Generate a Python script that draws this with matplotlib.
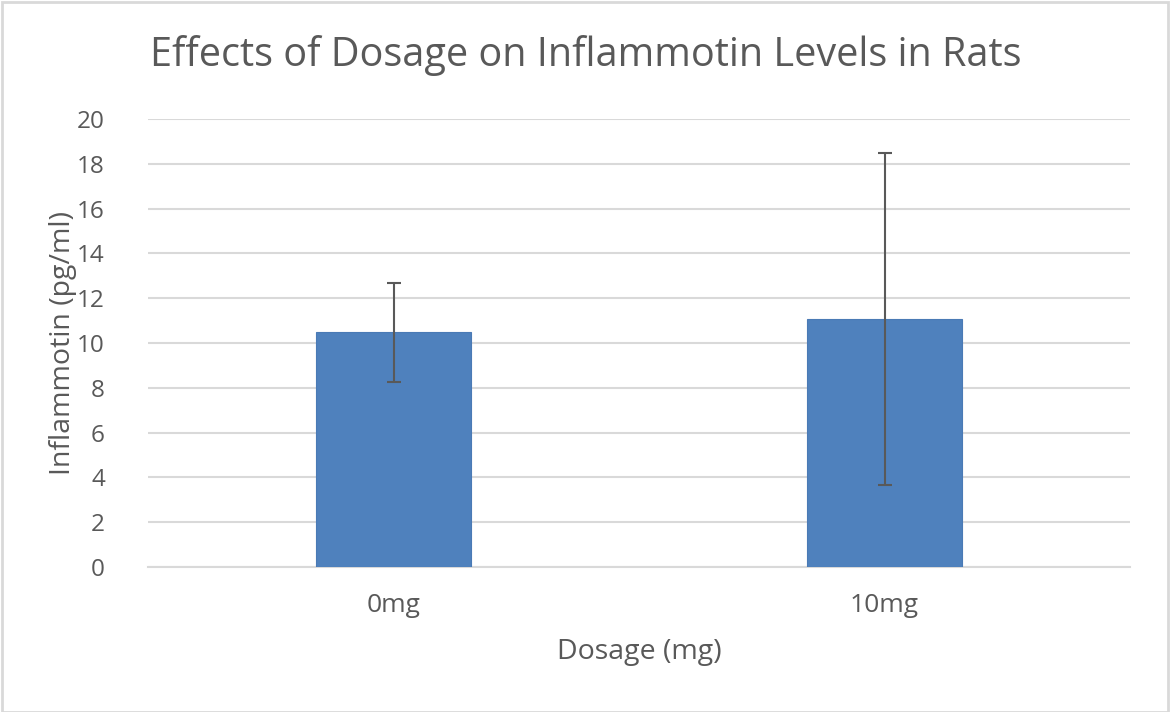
import matplotlib
matplotlib.use("Agg")
import matplotlib.pyplot as plt
import matplotlib.patches as mpatches

# Chart data
dosages = ["0mg", "10mg"]
means = [10.48, 11.07]
errors = [2.21, 7.42]
y_ticks = [0, 2, 4, 6, 8, 10, 12, 14, 16, 18, 20]

TEXT = "#595959"
BAR = "#4f81bd"
GRID = "#d9d9d9"

plt.rcParams['font.family'] = ['Open Sans', 'DejaVu Sans']

fig = plt.figure(figsize=(11.72, 7.12), dpi=100)
ax = fig.add_axes([0.1263, 0.2037, 0.8379, 0.6292])

x = list(range(len(dosages)))
ax.bar(x, means, width=0.314, color=BAR, edgecolor="#4a7ab5", linewidth=0.8, zorder=2)
ax.errorbar(x, means, yerr=errors, fmt='none', ecolor=TEXT, elinewidth=1.5,
            capsize=5, capthick=1.5, zorder=3)

ax.set_xlim(-0.5, 1.5)
ax.set_ylim(0, 20)
ax.set_yticks(y_ticks)
ax.set_xticks(x)
ax.set_xticklabels(dosages)
ax.tick_params(axis='both', length=0, colors=TEXT)
ax.tick_params(axis='y', pad=31, labelsize=17.5)
ax.tick_params(axis='x', pad=19, labelsize=19)
ax.yaxis.grid(True, color=GRID, linewidth=1.5, zorder=0)
ax.set_axisbelow(True)
for spine in ax.spines.values():
    spine.set_visible(False)
ax.axhline(0, color=GRID, linewidth=1.5, zorder=1, clip_on=False)

ax.set_xlabel("Dosage (mg)", fontsize=20.5, color=TEXT, labelpad=14)
ax.set_ylabel("Inflammotin (pg/ml)", fontsize=20.5, color=TEXT, labelpad=0)
fig.text(0.5, 0.922, "Effects of Dosage on Inflammotin Levels in Rats",
         ha='center', va='center', fontsize=28.5, color=TEXT)

# Light frame around the chart area
fig.patches.append(mpatches.Rectangle((0.002, 0.0), 0.995, 0.997, transform=fig.transFigure,
                                      fill=False, edgecolor=GRID, linewidth=2))

fig.savefig("out.png", dpi=100)
